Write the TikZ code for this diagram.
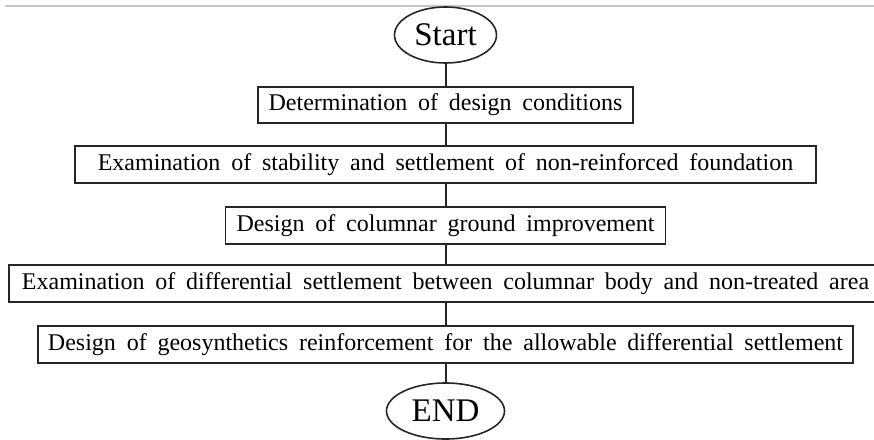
\documentclass[tikz,border=0pt]{standalone}
\usepackage{fontspec}
\setmainfont[WordSpace=1.8]{Liberation Serif}
\usetikzlibrary{shapes.geometric}
\tikzset{
  stepbox/.style={draw=black!85, line width=1.6pt, rectangle, inner sep=0pt,
    font=\fontsize{24}{28}\selectfont},
  term/.style={draw=black!85, line width=1.6pt, ellipse, inner sep=0pt,
    font=\fontsize{33}{38}\selectfont},
  link/.style={draw=black!85, line width=2pt}
}
\begin{document}
\begin{tikzpicture}[x=1pt,y=-1pt]
\useasboundingbox (0,0) rectangle (874,439);
\begin{scope}
\clip (0,0) rectangle (874,439);
\coordinate (topl) at (5,6);
\coordinate (topr) at (874,6);
\draw[gray!45, line width=1.5pt] (topl) -- (topr);
\node[term, minimum width=102pt, minimum height=56pt] (start) at (445.5,35) {Start};
\node[stepbox, minimum width=375pt, minimum height=36pt] (b1) at (445.5,105) {Determination of design conditions};
\node[stepbox, minimum width=741pt, minimum height=37pt] (b2) at (445.5,164.5) {Examination of stability and settlement of non-reinforced foundation};
\node[stepbox, minimum width=440pt, minimum height=37pt] (b3) at (445.5,225.5) {Design of columnar ground improvement};
\node[stepbox, minimum width=873pt, minimum height=37pt] (b4) at (445.5,283.5) {Examination of differential settlement between columnar body and non-treated area};
\node[stepbox, minimum width=815pt, minimum height=37pt] (b5) at (445.5,344.5) {Design of geosynthetics reinforcement for the allowable differential settlement};
\node[term, minimum width=118pt, minimum height=56pt] (end) at (445.5,411) {END};
\draw[link] (start.south) -- (start.south |- b1.north);
\draw[link] (b1.south) -- (b1.south |- b2.north);
\draw[link] (b2.south) -- (b2.south |- b3.north);
\draw[link] (b3.south) -- (b3.south |- b4.north);
\draw[link] (b4.south) -- (b4.south |- b5.north);
\draw[link] (b5.south) -- (b5.south |- end.north);
\end{scope}
\end{tikzpicture}
\end{document}
